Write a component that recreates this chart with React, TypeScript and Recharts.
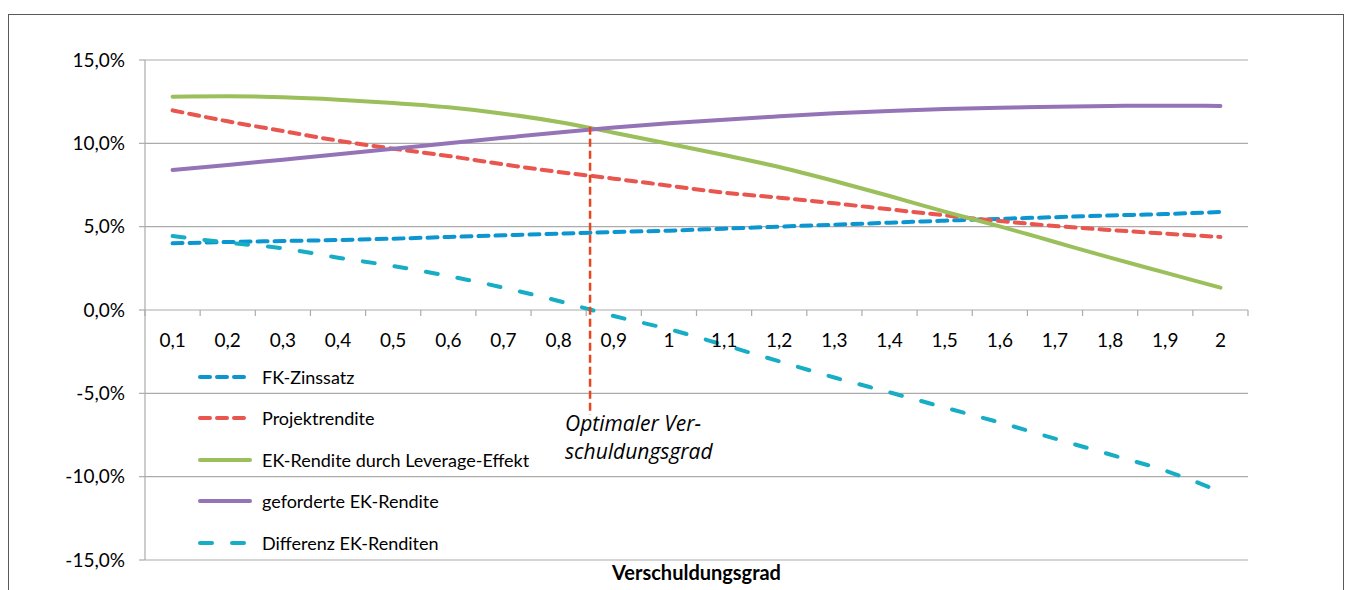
import { CartesianGrid, Legend, Line, LineChart, ReferenceDot, ReferenceLine, XAxis, YAxis } from "recharts";

// Verschuldungsgrad (FK/EK)
const LEVELS = [0.1, 0.2, 0.3, 0.4, 0.5, 0.6, 0.7, 0.8, 0.9, 1, 1.1, 1.2, 1.3, 1.4, 1.5, 1.6, 1.7, 1.8, 1.9, 2];

// Renditen in %
const FK_ZINSSATZ = [4.0, 4.08, 4.14, 4.2, 4.28, 4.38, 4.48, 4.58, 4.68, 4.76, 4.88, 5.0, 5.12, 5.24, 5.36, 5.47, 5.57, 5.67, 5.76, 5.88];
const PROJEKTRENDITE = [11.98, 11.32, 10.74, 10.16, 9.68, 9.24, 8.74, 8.28, 7.88, 7.46, 7.04, 6.74, 6.4, 6.04, 5.68, 5.34, 5.04, 4.8, 4.58, 4.38];
const EK_LEVERAGE = [12.8, 12.82, 12.76, 12.62, 12.42, 12.16, 11.78, 11.28, 10.64, 9.98, 9.3, 8.58, 7.74, 6.84, 5.9, 5.02, 4.08, 3.14, 2.24, 1.34];
const EK_GEFORDERT = [8.4, 8.7, 9.02, 9.34, 9.68, 10.0, 10.33, 10.65, 10.95, 11.2, 11.42, 11.62, 11.8, 11.94, 12.06, 12.14, 12.2, 12.24, 12.26, 12.24];
const DIFFERENZ = [4.44, 4.04, 3.7, 3.14, 2.64, 2.04, 1.34, 0.54, -0.36, -1.15, -2.1, -3.08, -4.05, -4.94, -5.85, -6.75, -7.72, -8.67, -9.64, -10.9];

const Y_TICKS = [-15, -10, -5, 0, 5, 10, 15];

// optimaler Verschuldungsgrad: Differenz = 0
const OPTIMUM = 0.857;
const OPTIMUM_TOP = 11.0;
const OPTIMUM_BOTTOM = -6.3;

const SERIES = [
  { key: "fk", name: "FK-Zinssatz", color: "#0b95d1", dash: "10 7", values: FK_ZINSSATZ },
  { key: "projekt", name: "Projektrendite", color: "#e8564f", dash: "10 7", values: PROJEKTRENDITE },
  { key: "ekLev", name: "EK-Rendite durch Leverage-Effekt", color: "#9bbf5b", dash: undefined, values: EK_LEVERAGE },
  { key: "ekGef", name: "geforderte EK-Rendite", color: "#9474b6", dash: undefined, values: EK_GEFORDERT },
  { key: "diff", name: "Differenz EK-Renditen", color: "#17adc5", dash: "12 20", values: DIFFERENZ },
];

const data = LEVELS.map((x, i) => {
  const row: Record<string, number> = { x };
  SERIES.forEach((s) => (row[s.key] = s.values[i]));
  return row;
});

const FONT = "Lato, 'Open Sans', sans-serif";
const NOTE_FONT = "'Open Sans', sans-serif";
const GRID = "#ababab";

const WIDTH = 1334;
const HEIGHT = 590;
const MARGIN = { top: 45, right: 95, bottom: 15, left: 0 };
const Y_AXIS_W = 136;
const X_AXIS_H = 30;
const PLOT_W = WIDTH - MARGIN.left - MARGIN.right - Y_AXIS_W;
const PLOT_H = HEIGHT - MARGIN.top - MARGIN.bottom - X_AXIS_H;
const X_MIN = 0.05;
const X_MAX = 2.05;
const Y_MIN = -15;
const Y_MAX = 15;

// the category labels sit under the 0%-line, not at the bottom of the plot
const ZERO_Y = MARGIN.top + (PLOT_H * Y_MAX) / (Y_MAX - Y_MIN);
const HALF_STEP = (PLOT_W * 0.05) / (X_MAX - X_MIN);

const fmtLevel = (v: number) => String(v).replace(".", ",");
const fmtPercent = (v: number) => `${v.toFixed(1).replace(".", ",")}%`;

function LevelTick(props: any) {
  const { x, payload } = props;
  const last = payload.value === LEVELS[LEVELS.length - 1];
  return (
    <g>
      <line x1={x - HALF_STEP} x2={x - HALF_STEP} y1={ZERO_Y} y2={ZERO_Y + 6} stroke={GRID} strokeWidth={1.2} />
      {last && <line x1={x + HALF_STEP} x2={x + HALF_STEP} y1={ZERO_Y} y2={ZERO_Y + 6} stroke={GRID} strokeWidth={1.2} />}
      <text x={x} y={ZERO_Y + 29} textAnchor="middle" dominantBaseline="central" fill="#000" fontSize={19} fontFamily={FONT}>
        {fmtLevel(payload.value)}
      </text>
    </g>
  );
}

function OptimumLabel(props: any) {
  const { x, y } = props.viewBox;
  return (
    <text fontFamily={NOTE_FONT} fontSize={21} fontStyle="italic" fill="#000">
      <tspan x={x - 25} y={y + 16}>Optimaler Ver-</tspan>
      <tspan x={x - 25} y={y + 44}>schuldungsgrad</tspan>
    </text>
  );
}

function SeriesLegend() {
  return (
    <div style={{ fontFamily: FONT, fontSize: 18, color: "#000" }}>
      {SERIES.map((s) => (
        <div key={s.key} style={{ display: "flex", alignItems: "center", height: 41.5 }}>
          <svg width={56} height={10}>
            <line x1={2} x2={52} y1={5} y2={5} stroke={s.color} strokeWidth={4} strokeDasharray={s.dash} strokeLinecap="round" />
          </svg>
          <span style={{ marginLeft: 8 }}>{s.name}</span>
        </div>
      ))}
    </div>
  );
}

export default function App() {
  return (
    <div
      style={{
        position: "fixed",
        top: 14,
        left: 8,
        width: WIDTH,
        height: HEIGHT,
        borderTop: "1.5px solid #5a5a5a",
        borderLeft: "1.5px solid #5a5a5a",
        borderRight: "1.5px solid #5a5a5a",
        background: "#fff",
      }}
    >
      <LineChart width={WIDTH} height={HEIGHT} data={data} margin={MARGIN}>
        <CartesianGrid vertical={false} stroke={GRID} strokeWidth={1.2} />
        <XAxis
          type="number"
          dataKey="x"
          domain={[X_MIN, X_MAX]}
          ticks={LEVELS}
          interval={0}
          axisLine={false}
          tickLine={false}
          tick={<LevelTick />}
          height={X_AXIS_H}
          label={{
            value: "Verschuldungsgrad",
            position: "insideTop",
            offset: 6,
            fill: "#000",
            fontSize: 20,
            fontWeight: 700,
            fontFamily: FONT,
          }}
        />
        <YAxis
          domain={[Y_MIN, Y_MAX]}
          ticks={Y_TICKS}
          interval={0}
          width={Y_AXIS_W}
          tickFormatter={fmtPercent}
          axisLine={{ stroke: GRID, strokeWidth: 1.2 }}
          tickLine={{ stroke: GRID, strokeWidth: 1.2 }}
          tickSize={6}
          tickMargin={14}
          tick={{ fill: "#000", fontSize: 19, fontFamily: FONT }}
        />
        <Legend
          content={<SeriesLegend />}
          layout="vertical"
          align="center"
          verticalAlign="middle"
          wrapperStyle={{ left: 189, top: 341, width: 360, height: 210 }}
        />
        {SERIES.map((s) => (
          <Line
            key={s.key}
            type="monotone"
            dataKey={s.key}
            name={s.name}
            stroke={s.color}
            strokeWidth={4}
            strokeDasharray={s.dash}
            strokeLinecap="round"
            dot={false}
            activeDot={false}
            isAnimationActive={false}
          />
        ))}
        <ReferenceLine
          segment={[
            { x: OPTIMUM, y: OPTIMUM_TOP },
            { x: OPTIMUM, y: OPTIMUM_BOTTOM },
          ]}
          stroke="#e8461d"
          strokeWidth={2.5}
          strokeDasharray="8 4"
        />
        <ReferenceDot x={OPTIMUM} y={OPTIMUM_BOTTOM} r={0} fill="none" stroke="none" label={OptimumLabel} />
      </LineChart>
    </div>
  );
}
